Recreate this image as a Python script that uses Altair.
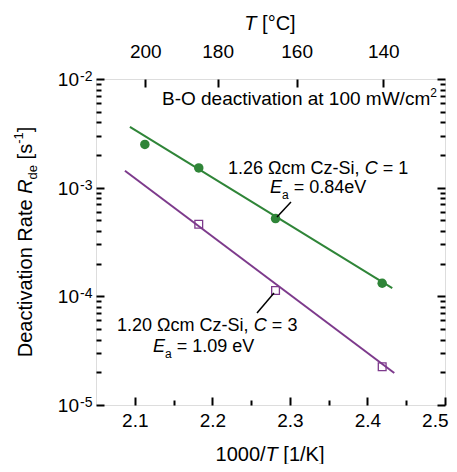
import altair as alt
import pandas as pd

# ---------------- data ----------------
green_x = [2.113, 2.1825, 2.2815, 2.419]
green_y = [2.5e-3, 1.52e-3, 5.2e-4, 1.32e-4]
purple_x = [2.1825, 2.2815, 2.419]
purple_y = [4.6e-4, 1.13e-4, 2.25e-5]
gfit_x = [2.0937, 2.432]
gfit_y = [3.62e-3, 1.19e-4]
pfit_x = [2.0873, 2.4346]
pfit_y = [1.43e-3, 1.97e-5]

x_ticks = [2.1, 2.2, 2.3, 2.4, 2.5]
x_minor = [2.15, 2.25, 2.35, 2.45]
top_T = [200, 180, 160, 140]
y_exps = [-5, -4, -3, -2]
y_minor = [k * 10.0 ** e for e in (-5, -4, -3) for k in range(2, 10)]

# annotation anchors (data coordinates)
g_lab1 = (2.2202, 1.336e-3)
g_lab2 = (2.2743, 8.87e-4)
p_lab1 = (2.0771, 4.80e-5)
p_lab2 = (2.1235, 3.07e-5)
bo_lab = (2.1351, 5.76e-3)
g_leader = ([2.3014, 2.2834], [7.39e-4, 5.38e-4])
p_leader = ([2.2576, 2.2795], [7.04e-5, 1.075e-4])

GREEN = "#2f8538"
PURPLE = "#7d3a8c"
FONT = "Liberation Sans"

W, H = 349, 326
xs = alt.Scale(domain=[2.05, 2.5], nice=False, zero=False)
ys = alt.Scale(type="log", domain=[1e-5, 1e-2], nice=False)

AW = {'0': 556, '1': 556, '2': 556, '3': 556, '4': 556, '5': 556, '6': 556, '7': 556,
      '8': 556, '9': 556, '.': 278, ',': 278, ' ': 278, 'Ω': 768, 'c': 500,
      'm': 833, 'C': 722, 'z': 500, '-': 333, 'S': 667, 'i': 222, '=': 584, 'E': 667,
      'a': 556, 'e': 556, 'V': 667, 'B': 667, 'O': 778, 'd': 556, 't': 278, 'v': 500,
      'o': 556, 'n': 556, 'W': 944, '/': 278, 'D': 722, 'R': 722, '[': 278, ']': 278,
      's': 500, 'T': 611, 'K': 667, '°': 400}


def tw(s, size):
    return sum(AW.get(ch, 556) for ch in s) * size / 1000.0


one = pd.DataFrame({"a": [0]})


def pieces_layers(pieces, data, enc, start=0.0, angle=0, center=False):
    # text is trimmed by the renderer, so leading spaces become offsets
    total = sum(tw(t, s) for t, s, _, _ in pieces)
    off = start - total / 2 if center else start
    out = []
    for t, s, it, dy in pieces:
        lead = len(t) - len(t.lstrip(" "))
        out.append(
            alt.Chart(data).mark_text(
                text=t.strip(" "), align="left", baseline="alphabetic",
                dx=off + tw(t[:lead], s), dy=dy,
                fontSize=s, font=FONT, fontStyle="italic" if it else "normal",
                color="black", angle=angle,
            ).encode(**enc)
        )
        off += tw(t, s)
    return out


def anchor(pt):
    d = pd.DataFrame({"x": [pt[0]], "y": [pt[1]]})
    enc = dict(x=alt.X("x:Q", scale=xs, axis=None), y=alt.Y("y:Q", scale=ys, axis=None))
    return d, enc


def ax(**kw):
    base = dict(grid=False, domain=False, title=None, tickColor="black", tickWidth=2,
                labelFont=FONT, labelColor="black", labelFontSize=19,
                labelFlush=False, labelOverlap=False, labelBound=False)
    base.update(kw)
    return alt.Axis(**base)


# ---------------- data layers with axes ----------------
gfit = pd.DataFrame({"x": gfit_x, "y": gfit_y})
pfit = pd.DataFrame({"x": pfit_x, "y": pfit_y})
gpts = pd.DataFrame({"x": green_x, "y": green_y})
ppts = pd.DataFrame({"x": purple_x, "y": purple_y})

l_green = alt.Chart(gfit).mark_line(color=GREEN, strokeWidth=2).encode(
    x=alt.X("x:Q", scale=xs, axis=ax(orient="bottom", values=x_ticks, format=".1f",
                                     tickSize=alt.ExprRef("-8"), labelPadding=14,
                                     labelFlush=True, labelFlushOffset=3)),
    y=alt.Y("y:Q", scale=ys, axis=ax(orient="left", values=[10.0 ** e for e in y_exps],
                                     labels=False, tickSize=alt.ExprRef("-8"))),
)
l_purple = alt.Chart(pfit).mark_line(color=PURPLE, strokeWidth=2).encode(
    x=alt.X("x:Q", scale=xs, axis=ax(orient="bottom", values=x_minor, labels=False,
                                     tickSize=alt.ExprRef("-5"))),
    y=alt.Y("y:Q", scale=ys, axis=ax(orient="left", values=y_minor, labels=False,
                                     tickSize=alt.ExprRef("-5"))),
)
top_vals = [1000.0 / (t + 273.15) for t in top_T]
p_green = alt.Chart(gpts).mark_point(shape="circle", filled=True, size=90, color=GREEN,
                                     opacity=1).encode(
    x=alt.X("x:Q", scale=xs, axis=ax(orient="top", values=top_vals,
                                     labelExpr="format(1000/datum.value - 273.15, '.0f')",
                                     tickSize=alt.ExprRef("-8"), labelPadding=26)),
    y=alt.Y("y:Q", scale=ys, axis=ax(orient="right", values=[10.0 ** e for e in y_exps],
                                     labels=False, tickSize=alt.ExprRef("-8"))),
)
p_purple = alt.Chart(ppts).mark_point(shape="square", filled=False, size=60, color=PURPLE,
                                      strokeWidth=1.3, opacity=1).encode(
    x=alt.X("x:Q", scale=xs, axis=None),
    y=alt.Y("y:Q", scale=ys, axis=ax(orient="right", values=y_minor, labels=False,
                                     tickSize=alt.ExprRef("-5"))),
)

layers = [l_green, l_purple, p_green, p_purple]

# leader lines
for lx, ly in (g_leader, p_leader):
    d = pd.DataFrame({"x": [lx[0]], "y": [ly[0]], "x2": [lx[1]], "y2": [ly[1]]})
    layers.append(alt.Chart(d).mark_rule(color="black", strokeWidth=1.5).encode(
        x=alt.X("x:Q", scale=xs, axis=None), y=alt.Y("y:Q", scale=ys, axis=None),
        x2="x2:Q", y2="y2:Q"))

# y tick labels 10^n
ydf = pd.DataFrame({"y": [10.0 ** e for e in y_exps], "sup": ["-%d" % (-e) for e in y_exps]})
layers.append(alt.Chart(ydf).mark_text(text="10", align="right", baseline="alphabetic",
                                       dy=7, fontSize=19, font=FONT, color="black").encode(
    x=alt.value(-17), y=alt.Y("y:Q", scale=ys, axis=None)))
layers.append(alt.Chart(ydf).mark_text(align="left", baseline="alphabetic", dy=2,
                                       fontSize=14, font=FONT, color="black").encode(
    x=alt.value(-16), y=alt.Y("y:Q", scale=ys, axis=None), text="sup:N"))

# annotations
d, e = anchor(g_lab1)
layers += pieces_layers([("1.26 Ωcm Cz-Si, ", 18, False, 0), ("C", 18, True, 0),
                         (" = 1", 18, False, 0)], d, e)
d, e = anchor(g_lab2)
layers += pieces_layers([("E", 18, True, 0), ("a", 12, False, 6),
                         (" = 0.84eV", 18, False, 0)], d, e)
d, e = anchor(p_lab1)
layers += pieces_layers([("1.20 Ωcm Cz-Si, ", 18, False, 0), ("C", 18, True, 0),
                         (" = 3", 18, False, 0)], d, e)
d, e = anchor(p_lab2)
layers += pieces_layers([("E", 18, True, 0), ("a", 12, False, 6),
                         (" = 1.09 eV", 18, False, 0)], d, e)
d, e = anchor(bo_lab)
layers += pieces_layers([("B-O deactivation at 100 mW/cm", 19, False, 0),
                         ("2", 12, False, -8)], d, e)

# axis titles
layers += pieces_layers([("1000/", 20, False, 0), ("T", 20, True, 0), (" [1/K]", 20, False, 0)],
                        one, dict(x=alt.value(174), y=alt.value(382)), center=True)
layers += pieces_layers([("T", 20, True, 0), (" [°C]", 20, False, 0)],
                        one, dict(x=alt.value(174), y=alt.value(-49)), center=True)
layers += pieces_layers([("Deactivation Rate ", 20, False, 0), ("R", 20, True, 0),
                         ("de", 13, False, 5), (" [s", 20, False, 0), ("-1", 13, False, -9),
                         ("]", 20, False, 0)],
                        one, dict(x=alt.value(-64), y=alt.value(163)), angle=270, center=True)

chart = alt.layer(*layers).resolve_axis(x="independent", y="independent").properties(
    width=W, height=H,
    autosize=alt.AutoSizeParams(type="none"),
    padding={"left": 88, "top": 71, "right": 4, "bottom": 59},
).configure_view(stroke="black", strokeWidth=2).configure(background="white")

chart.save("out.html", embed_options={"renderer": "svg", "actions": False})
